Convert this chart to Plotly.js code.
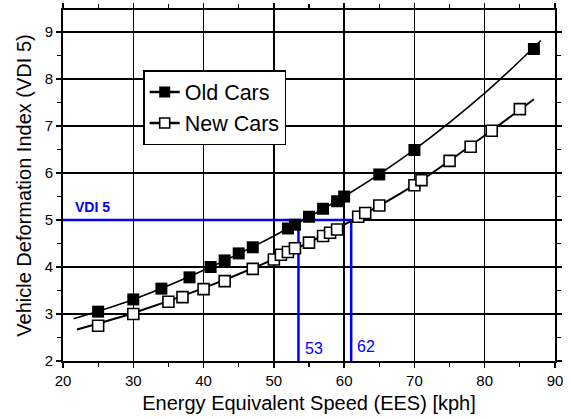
<!DOCTYPE html>
<html>
<head>
<meta charset="utf-8">
<script src="https://cdn.plot.ly/plotly-3.0.1.min.js"></script>
<style>html,body{margin:0;padding:0;background:#fff;}#chart{width:571px;height:419px;}</style>
</head>
<body>
<div id="chart"></div>
<script>
// Measured points
var oldX = [25, 30, 34, 38, 41, 43, 45, 47, 52, 53, 55, 57, 59, 60, 65, 70, 87];
var oldY = [3.05, 3.31, 3.54, 3.78, 4.0, 4.14, 4.29, 4.42, 4.82, 4.9, 5.07, 5.24, 5.4, 5.5, 5.97, 6.49, 8.64];
var newX = [25, 30, 35, 37, 40, 43, 47, 50, 51, 52, 53, 55, 57, 58, 59, 62, 63, 65, 70, 71, 75, 78, 81, 85];
var newY = [2.75, 3.0, 3.26, 3.36, 3.53, 3.7, 3.96, 4.16, 4.26, 4.32, 4.4, 4.52, 4.66, 4.73, 4.8, 5.07, 5.15, 5.31, 5.74, 5.85, 6.26, 6.56, 6.9, 7.36];
// Fitted curves
var oldFitX = [21.5, 30, 40, 50, 60, 70, 80, 88];
var oldFitY = [2.9, 3.31, 3.93, 4.66, 5.5, 6.5, 7.7, 8.82];
var newFitX = [22, 30, 40, 50, 60, 70, 80, 87];
var newFitY = [2.67, 3.02, 3.55, 4.17, 4.9, 5.75, 6.8, 7.57];
// VDI 5 reference
var vdiLevel = 5;
var vdiSpeeds = [53.5, 61];
var vdiSpeedLabels = ['53', '62'];
var vdiLabel = 'VDI 5';
var seriesNames = ['Old Cars', 'New Cars'];
var xTickVals = [20, 30, 40, 50, 60, 70, 80, 90];
var yTickVals = [2, 3, 4, 5, 6, 7, 8, 9];

var blue = '#0000ff';
var font = 'Liberation Sans, Arial, sans-serif';
var traces = [];
// blue guide lines
traces.push({x: [20, vdiSpeeds[1]], y: [vdiLevel, vdiLevel], mode: 'lines', line: {color: blue, width: 2.5}, showlegend: false, hoverinfo: 'skip'});
vdiSpeeds.forEach(function (s) {
  traces.push({x: [s, s], y: [2, vdiLevel], mode: 'lines', line: {color: blue, width: 2.5}, showlegend: false, hoverinfo: 'skip'});
});
traces.push({x: oldFitX, y: oldFitY, mode: 'lines', line: {color: '#000', width: 1.6, shape: 'spline'}, showlegend: false});
traces.push({x: newFitX, y: newFitY, mode: 'lines', line: {color: '#000', width: 2, shape: 'spline'}, showlegend: false});
traces.push({x: oldX, y: oldY, mode: 'markers', marker: {symbol: 'square', size: 12, color: '#000'}, showlegend: false});
traces.push({x: newX, y: newY, mode: 'markers', marker: {symbol: 'square', size: 11, color: '#fff', line: {color: '#000', width: 1.6}}, showlegend: false});
// legend entries
traces.push({x: [null], y: [null], name: seriesNames[0], mode: 'lines+markers', line: {color: '#000', width: 2.5}, marker: {symbol: 'square', size: 11, color: '#000'}});
traces.push({x: [null], y: [null], name: seriesNames[1], mode: 'lines+markers', line: {color: '#000', width: 2.5}, marker: {symbol: 'square', size: 10, color: '#fff', line: {color: '#000', width: 1.6}}});

var axisCommon = {
  showline: true, linecolor: '#000', linewidth: 2, mirror: 'allticks',
  ticks: 'outside', ticklen: 5, tickwidth: 1.5, tickcolor: '#000',
  showgrid: true, gridcolor: '#000', gridwidth: 1.5, zeroline: false,
  tickfont: {family: font, size: 15, color: '#000'}
};
var xaxis = Object.assign({}, axisCommon, {
  range: [20, 90], tickvals: xTickVals, ticktext: xTickVals.map(String),
  minor: {dtick: 5, tick0: 20, ticklen: 4, tickwidth: 1.2, tickcolor: '#000', ticks: 'outside', showgrid: false},
  title: {text: 'Energy Equivalent Speed (EES) [kph]', font: {family: font, size: 20, color: '#000'}, standoff: 8}
});
var yaxis = Object.assign({}, axisCommon, {
  range: [2, 9.47], tickvals: yTickVals, ticktext: yTickVals.map(String),
  minor: {dtick: 0.5, tick0: 2, ticklen: 4, tickwidth: 1.2, tickcolor: '#000', ticks: 'outside', showgrid: false},
  title: {text: 'Vehicle Deformation Index (VDI 5)', font: {family: font, size: 20, color: '#000'}, standoff: 8}
});

var layout = {
  width: 571, height: 419,
  margin: {l: 63, r: 16, t: 10, b: 58},
  paper_bgcolor: '#fff', plot_bgcolor: '#fff',
  xaxis: xaxis, yaxis: yaxis,
  showlegend: true,
  legend: {x: 0.163, y: 0.829, xanchor: 'left', yanchor: 'top', bgcolor: '#fff', bordercolor: '#000', borderwidth: 1.5,
    font: {family: font, size: 21.5, color: '#000'}, tracegroupgap: 0, itemwidth: 30},
  annotations: [
    {x: 21.4, y: 5.28, xref: 'x', yref: 'y', text: '<b>' + vdiLabel + '</b>', showarrow: false, xanchor: 'left', yanchor: 'middle', font: {family: font, size: 14, color: blue}},
    {x: vdiSpeeds[0] + 0.6, y: 2.26, xref: 'x', yref: 'y', text: vdiSpeedLabels[0], showarrow: false, xanchor: 'left', yanchor: 'middle', font: {family: font, size: 16, color: blue}},
    {x: vdiSpeeds[1] + 0.5, y: 2.3, xref: 'x', yref: 'y', text: vdiSpeedLabels[1], showarrow: false, xanchor: 'left', yanchor: 'middle', font: {family: font, size: 16, color: blue}}
  ]
};
Plotly.newPlot('chart', traces, layout, {staticPlot: true, displayModeBar: false});
</script>
</body>
</html>
